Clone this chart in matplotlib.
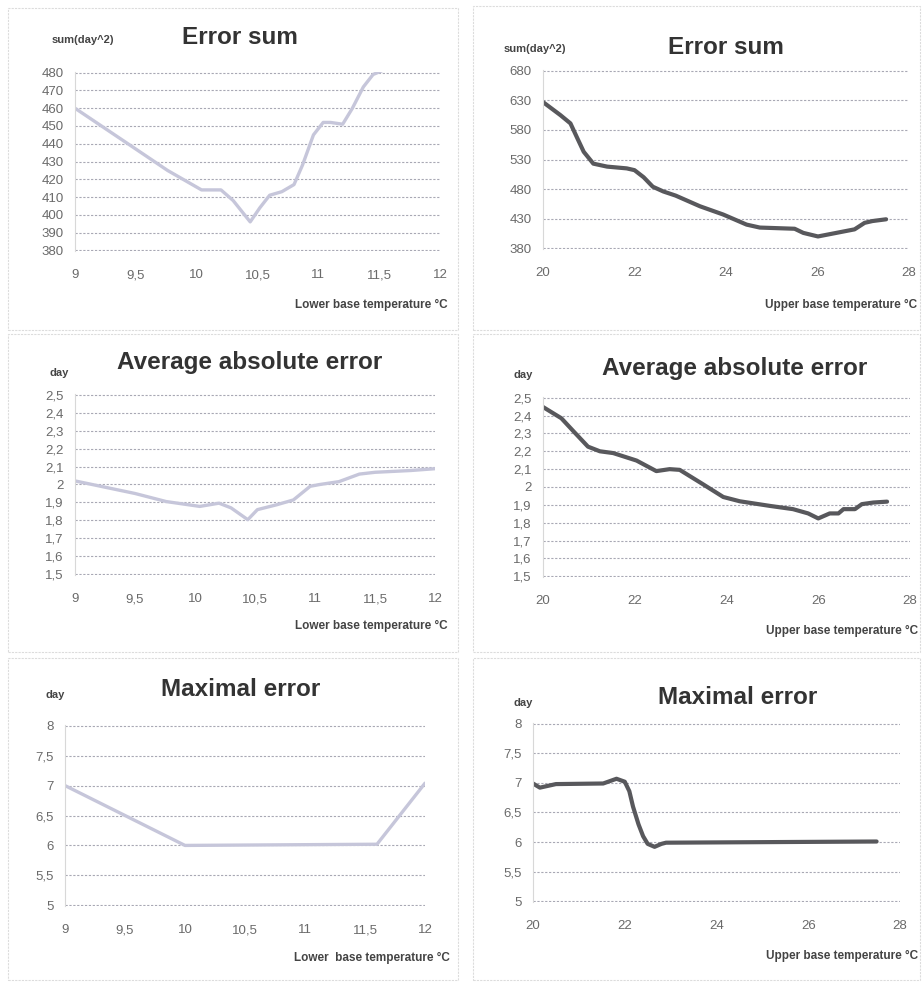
import matplotlib
matplotlib.use("Agg")
import matplotlib.pyplot as plt
from matplotlib.patches import Rectangle
from matplotlib.ticker import FuncFormatter

plt.rcParams["font.family"] = ["Liberation Sans", "DejaVu Sans"]

W, H = 923, 983

# data
lower_sum_x = [9, 9.5, 9.76, 10.04, 10.2, 10.3, 10.44, 10.52, 10.6, 10.7, 10.8, 10.87, 10.96, 11.04, 11.1, 11.2, 11.28, 11.37, 11.45, 11.52]
lower_sum_y = [460, 437, 425, 414, 414, 408, 396, 404, 411, 413, 417, 428, 445, 452, 452, 451, 460, 472, 479, 481]

upper_sum_x = [20, 20.38, 20.6, 20.75, 20.89, 21.1, 21.4, 21.83, 22.0, 22.2, 22.4, 22.63, 22.9, 23.43, 23.94, 24.45, 24.74, 25.5, 25.69, 26.01, 26.41, 26.81, 27.03, 27.2, 27.5]
upper_sum_y = [627, 605, 591, 566, 543, 523, 518, 515, 512, 500, 484, 476, 469, 451, 437, 420, 415, 413, 406, 400, 406, 412, 423, 426, 429]

lower_avg_x = [9, 9.5, 9.76, 10.04, 10.2, 10.3, 10.44, 10.52, 10.68, 10.82, 10.96, 11.04, 11.2, 11.37, 11.5, 11.8, 12]
lower_avg_y = [2.02, 1.95, 1.905, 1.878, 1.896, 1.87, 1.804, 1.86, 1.887, 1.914, 1.99, 2.0, 2.016, 2.058, 2.068, 2.078, 2.088]

upper_avg_x = [20, 20.4, 20.69, 20.98, 21.24, 21.53, 22.04, 22.47, 22.76, 22.98, 23.49, 23.93, 24.29, 24.95, 25.45, 25.78, 26.0, 26.25, 26.44, 26.55, 26.8, 26.95, 27.2, 27.5]
upper_avg_y = [2.448, 2.385, 2.305, 2.226, 2.2, 2.19, 2.148, 2.089, 2.1, 2.096, 2.015, 1.944, 1.92, 1.894, 1.876, 1.852, 1.824, 1.852, 1.852, 1.876, 1.876, 1.904, 1.913, 1.918]

lower_max_x = [9, 10, 11.6, 12]
lower_max_y = [7, 6, 6.02, 7.04]

upper_max_x = [20, 20.15, 20.5, 21.53, 21.82, 22.0, 22.1, 22.18, 22.3, 22.4, 22.5, 22.65, 22.8, 22.9, 27.49]
upper_max_y = [6.99, 6.92, 6.98, 6.99, 7.07, 7.02, 6.86, 6.6, 6.3, 6.1, 5.97, 5.92, 5.97, 5.99, 6.01]

lower_ticks = [9, 9.5, 10, 10.5, 11, 11.5, 12]
upper_ticks = [20, 22, 24, 26, 28]
sum_lower_yticks = [380, 390, 400, 410, 420, 430, 440, 450, 460, 470, 480]
sum_upper_yticks = [380, 430, 480, 530, 580, 630, 680]
avg_yticks = [1.5, 1.6, 1.7, 1.8, 1.9, 2.0, 2.1, 2.2, 2.3, 2.4, 2.5]
max_yticks = [5, 5.5, 6, 6.5, 7, 7.5, 8]

light_line = "#c6c6da"
dark_line = "#58585c"


def comma(v, pos):
    s = ("%.2f" % v).rstrip("0").rstrip(".")
    return s.replace(".", ",")


fig = plt.figure(figsize=(W / 100, H / 100), dpi=100)

# panel frames
for (x0, y0, x1, y1) in [(8, 8, 458, 330), (473, 6, 920, 330),
                         (8, 334, 458, 652), (473, 334, 920, 652),
                         (8, 658, 458, 980), (473, 658, 920, 980)]:
    fig.add_artist(Rectangle((x0 / W, 1 - y1 / H), (x1 - x0) / W, (y1 - y0) / H,
                             transform=fig.transFigure, fill=False,
                             edgecolor="#dcdcdc", lw=0.8, ls=(0, (2, 1))))


def panel(box, xs, ys, color, lw, xticks, yticks, title, tpos, ylab, ypos, xlab, xpos):
    l, r, t, b = box
    ax = fig.add_axes([l / W, 1 - b / H, (r - l) / W, (b - t) / H])
    ax.plot(xs, ys, color=color, lw=lw, solid_joinstyle="round", solid_capstyle="round")
    ax.set_xlim(xticks[0], xticks[-1])
    m = (yticks[-1] - yticks[0]) * 0.004
    ax.set_ylim(yticks[0] - m, yticks[-1] + m)
    ax.set_xticks(xticks)
    ax.set_yticks(yticks)
    ax.xaxis.set_major_formatter(FuncFormatter(comma))
    ax.yaxis.set_major_formatter(FuncFormatter(comma))
    ax.tick_params(length=0, labelsize=9.5, labelcolor="#6a6a6a")
    ax.tick_params(axis="x", pad=13)
    ax.tick_params(axis="y", pad=8)
    ax.grid(axis="y", color="#a8a8b4", lw=0.8, ls=(0, (2, 1.5)))
    ax.set_axisbelow(True)
    for s in ["top", "right", "bottom"]:
        ax.spines[s].set_visible(False)
    ax.spines["left"].set_color("#d8d8d8")
    fig.text(tpos[0] / W, 1 - tpos[1] / H, title, ha="center", va="center",
             fontsize=17.5, fontweight="bold", color="#333333")
    fig.text(ypos[0] / W, 1 - ypos[1] / H, ylab, ha="center", va="center",
             fontsize=8, fontweight="bold", color="#444444")
    fig.text(xpos[0] / W, 1 - xpos[1] / H, xlab, ha="right", va="center",
             fontsize=8.5, fontweight="bold", color="#444444")
    return ax


panel((75, 440, 72, 251), lower_sum_x, lower_sum_y, light_line, 2.4,
      lower_ticks, sum_lower_yticks, "Error sum", (240, 38),
      "sum(day^2)", (83, 40), "Lower base temperature °C", (448, 305))
panel((543, 909, 70, 249), upper_sum_x, upper_sum_y, dark_line, 3.0,
      upper_ticks, sum_upper_yticks, "Error sum", (726, 47),
      "sum(day^2)", (535, 49), "Upper base temperature °C", (917, 305))
panel((75, 435, 394, 575), lower_avg_x, lower_avg_y, light_line, 2.4,
      lower_ticks, avg_yticks, "Average absolute error", (250, 363),
      "day", (59, 373), "Lower base temperature °C", (448, 626))
panel((543, 910, 397, 577), upper_avg_x, upper_avg_y, dark_line, 3.0,
      upper_ticks, avg_yticks, "Average absolute error", (735, 368),
      "day", (523, 375), "Upper base temperature °C", (918, 631))
panel((65, 425, 725, 906), lower_max_x, lower_max_y, light_line, 2.4,
      lower_ticks, max_yticks, "Maximal error", (241, 690),
      "day", (55, 695), "Lower  base temperature °C", (450, 958))
panel((533, 900, 723, 902), upper_max_x, upper_max_y, dark_line, 3.0,
      upper_ticks, max_yticks, "Maximal error", (738, 698),
      "day", (523, 703), "Upper base temperature °C", (918, 956))

fig.savefig("out.png", dpi=100)
